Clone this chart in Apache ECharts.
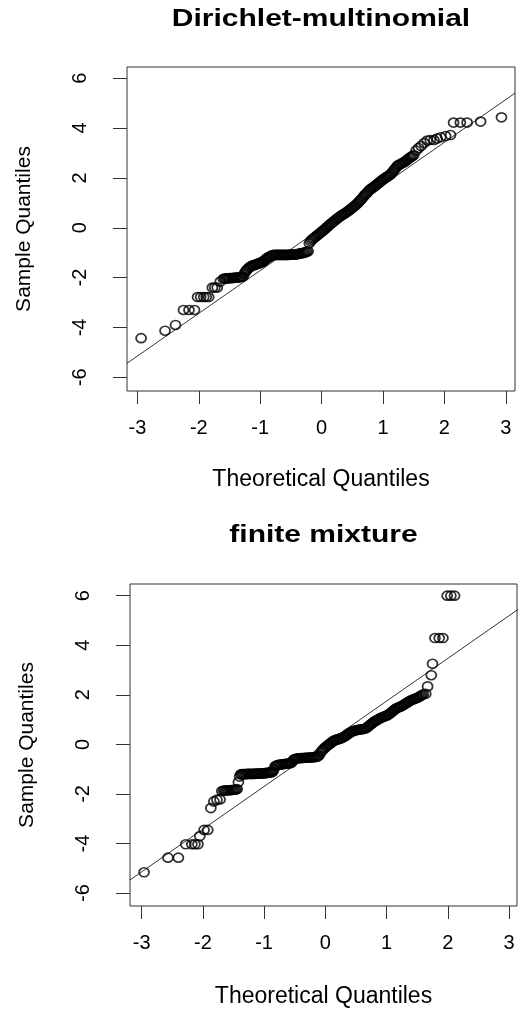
<!DOCTYPE html>
<html>
<head>
<meta charset="utf-8">
<script src="https://cdn.jsdelivr.net/npm/echarts@6/dist/echarts.min.js"></script>
<style>
html,body{margin:0;padding:0;background:#fff;}
#chart{width:519px;height:1009px;}
</style>
</head>
<body>
<div id="chart"></div>
<script>
// ---- Data ----
var titleDM = 'Dirichlet-multinomial';
var titleFM = 'finite mixture';
var xAxisName = 'Theoretical Quantiles';
var yAxisName = 'Sample Quantiles';
var xTicks = [-3, -2, -1, 0, 1, 2, 3];
var yTicks = [-6, -4, -2, 0, 2, 4, 6];

// Dirichlet-multinomial: [theoretical quantile, sample quantile]
var qqDM = [
  [-2.94,-4.43],[-2.55,-4.13],[-2.38,-3.90],[-2.25,-3.30],[-2.16,-3.30],[-2.07,-3.30],
  [-2.02,-2.78],[-1.97,-2.78],[-1.92,-2.78],[-1.88,-2.78],[-1.84,-2.78],
  [-1.78,-2.40],[-1.74,-2.40],[-1.70,-2.40],[-1.65,-2.16],
  [-1.60,-2.05],[-1.58,-2.04],[-1.56,-2.04],[-1.54,-2.03],[-1.52,-2.03],[-1.50,-2.02],[-1.48,-2.02],
  [-1.46,-2.02],[-1.44,-2.01],[-1.42,-2.01],[-1.40,-2.00],[-1.38,-2.00],[-1.36,-2.00],[-1.34,-1.99],
  [-1.32,-1.98],[-1.30,-1.97],[-1.28,-1.96],
  [-1.26,-1.85],[-1.24,-1.76],[-1.22,-1.70],[-1.20,-1.64],[-1.18,-1.59],[-1.16,-1.56],
  [-1.14,-1.53],[-1.12,-1.51],[-1.10,-1.50],[-1.08,-1.48],[-1.06,-1.46],[-1.04,-1.44],[-1.02,-1.43],
  [-1.00,-1.41],[-0.98,-1.38],[-0.96,-1.37],
  [-0.94,-1.33],[-0.92,-1.28],[-0.90,-1.24],[-0.88,-1.20],[-0.86,-1.18],[-0.84,-1.15],[-0.82,-1.12],[-0.80,-1.10],
  [-0.78,-1.09],[-0.76,-1.09],[-0.74,-1.09],[-0.72,-1.09],[-0.70,-1.09],[-0.68,-1.09],[-0.66,-1.09],
  [-0.64,-1.09],[-0.62,-1.09],[-0.60,-1.09],[-0.58,-1.09],[-0.56,-1.09],[-0.54,-1.09],[-0.52,-1.08],
  [-0.50,-1.08],[-0.48,-1.08],[-0.46,-1.08],[-0.44,-1.08],[-0.42,-1.07],[-0.40,-1.06],[-0.38,-1.05],
  [-0.36,-1.04],[-0.34,-1.03],[-0.32,-1.02],[-0.30,-1.01],[-0.28,-1.00],[-0.26,-0.98],[-0.24,-0.96],[-0.22,-0.94],
  [-0.20,-0.62],[-0.18,-0.54],[-0.16,-0.48],[-0.14,-0.44],[-0.12,-0.40],[-0.10,-0.36],[-0.08,-0.32],
  [-0.06,-0.28],[-0.04,-0.24],[-0.02,-0.20],[0.00,-0.16],[0.02,-0.12],[0.04,-0.08],[0.06,-0.04],
  [0.08,0.01],[0.10,0.05],[0.12,0.10],[0.14,0.14],[0.16,0.18],[0.18,0.22],[0.20,0.26],[0.22,0.30],
  [0.24,0.34],[0.26,0.38],[0.28,0.42],[0.30,0.45],[0.32,0.49],[0.34,0.52],[0.36,0.55],[0.38,0.58],
  [0.40,0.61],[0.42,0.65],[0.44,0.68],[0.46,0.72],[0.48,0.76],[0.50,0.80],[0.52,0.84],[0.54,0.88],
  [0.56,0.92],[0.58,0.97],[0.60,1.02],[0.62,1.07],[0.64,1.12],[0.66,1.18],[0.68,1.24],[0.70,1.30],
  [0.72,1.35],[0.74,1.40],[0.76,1.46],[0.78,1.51],[0.80,1.55],[0.82,1.59],[0.84,1.63],[0.86,1.66],
  [0.88,1.70],[0.90,1.74],[0.92,1.78],[0.94,1.82],[0.96,1.86],[0.98,1.90],[1.00,1.94],[1.02,1.97],
  [1.04,2.01],[1.06,2.04],[1.08,2.07],[1.10,2.10],[1.12,2.14],[1.14,2.19],[1.16,2.25],[1.18,2.32],
  [1.20,2.38],[1.22,2.44],[1.24,2.50],[1.26,2.53],[1.28,2.55],[1.30,2.58],[1.32,2.61],[1.34,2.63],
  [1.36,2.66],[1.38,2.70],[1.40,2.74],[1.42,2.78],[1.44,2.82],[1.46,2.85],[1.48,2.88],[1.50,2.92],
  [1.54,3.10],[1.58,3.20],[1.62,3.28],[1.67,3.40],[1.72,3.50],[1.77,3.52],[1.83,3.52],[1.88,3.58],
  [1.94,3.63],[2.02,3.68],[2.10,3.72],[2.15,4.22],[2.26,4.22],[2.37,4.22],[2.59,4.26],[2.93,4.43]
];
// reference line end points [x, y]
var lineDM = [[-3.17,-5.44],[3.15,5.40]];

// finite mixture: [theoretical quantile, sample quantile]
var qqFM = [
  [-2.96,-5.16],[-2.57,-4.57],[-2.40,-4.57],[-2.28,-4.03],[-2.18,-4.03],[-2.13,-4.03],[-2.08,-4.03],
  [-2.05,-3.70],[-1.98,-3.45],[-1.92,-3.45],[-1.87,-2.57],[-1.82,-2.30],[-1.77,-2.23],[-1.72,-2.22],
  [-1.69,-1.88],[-1.66,-1.86],[-1.64,-1.86],[-1.62,-1.86],[-1.60,-1.85],[-1.58,-1.85],[-1.56,-1.85],
  [-1.54,-1.84],[-1.52,-1.84],[-1.50,-1.83],[-1.48,-1.83],[-1.46,-1.82],[-1.44,-1.80],
  [-1.42,-1.52],[-1.40,-1.30],
  [-1.38,-1.21],[-1.36,-1.20],[-1.34,-1.20],[-1.32,-1.20],[-1.30,-1.20],[-1.28,-1.19],[-1.26,-1.19],
  [-1.24,-1.19],[-1.22,-1.19],[-1.20,-1.19],[-1.18,-1.19],[-1.16,-1.19],[-1.14,-1.18],[-1.12,-1.18],
  [-1.10,-1.18],[-1.08,-1.18],[-1.06,-1.17],[-1.04,-1.17],[-1.02,-1.17],[-1.00,-1.16],[-0.98,-1.16],
  [-0.96,-1.15],[-0.94,-1.15],[-0.92,-1.14],[-0.90,-1.13],[-0.88,-1.12],[-0.86,-1.10],[-0.84,-1.00],
  [-0.82,-0.88],[-0.80,-0.85],[-0.78,-0.83],[-0.76,-0.82],[-0.74,-0.81],[-0.72,-0.81],[-0.70,-0.80],
  [-0.68,-0.79],[-0.66,-0.79],[-0.64,-0.78],[-0.62,-0.77],[-0.60,-0.77],[-0.58,-0.76],[-0.56,-0.75],
  [-0.54,-0.70],[-0.52,-0.62],[-0.50,-0.59],[-0.48,-0.58],[-0.46,-0.57],[-0.44,-0.56],[-0.42,-0.56],
  [-0.40,-0.55],[-0.38,-0.55],[-0.36,-0.55],[-0.34,-0.54],[-0.32,-0.54],[-0.30,-0.54],[-0.28,-0.53],
  [-0.26,-0.53],[-0.24,-0.53],[-0.22,-0.52],[-0.20,-0.52],[-0.18,-0.52],[-0.16,-0.51],[-0.14,-0.50],
  [-0.12,-0.48],[-0.10,-0.44],[-0.08,-0.34],[-0.06,-0.28],[-0.04,-0.22],[-0.02,-0.17],[0.00,-0.12],
  [0.02,-0.08],[0.04,-0.04],[0.06,0.00],[0.08,0.04],[0.10,0.08],[0.12,0.12],[0.14,0.15],[0.16,0.17],
  [0.18,0.19],[0.20,0.20],[0.22,0.22],[0.24,0.23],[0.26,0.25],[0.28,0.28],[0.30,0.30],[0.32,0.33],
  [0.34,0.36],[0.36,0.40],[0.38,0.44],[0.40,0.47],[0.42,0.50],[0.44,0.52],[0.46,0.54],[0.48,0.56],
  [0.50,0.57],[0.52,0.58],[0.54,0.59],[0.56,0.60],[0.58,0.61],[0.60,0.61],[0.62,0.62],[0.64,0.63],
  [0.66,0.65],[0.68,0.68],[0.70,0.72],[0.72,0.76],[0.74,0.80],[0.76,0.84],[0.78,0.88],[0.80,0.92],
  [0.82,0.95],[0.84,0.97],[0.86,1.00],[0.88,1.03],[0.90,1.06],[0.92,1.08],[0.94,1.10],[0.96,1.12],
  [0.98,1.14],[1.00,1.16],[1.02,1.19],[1.04,1.22],[1.06,1.26],[1.08,1.30],[1.10,1.34],[1.12,1.38],
  [1.14,1.42],[1.16,1.46],[1.18,1.48],[1.20,1.50],[1.22,1.52],[1.24,1.54],[1.26,1.57],[1.28,1.60],
  [1.30,1.63],[1.32,1.66],[1.34,1.69],[1.36,1.72],[1.38,1.75],[1.40,1.78],[1.42,1.80],[1.44,1.82],
  [1.46,1.84],[1.48,1.86],[1.50,1.88],[1.52,1.90],[1.54,1.93],[1.56,1.96],[1.58,1.99],[1.60,2.02],
  [1.64,2.04],[1.67,2.34],[1.73,2.79],[1.75,3.25],[1.79,4.29],[1.86,4.29],[1.92,4.29],
  [1.99,6.00],[2.05,6.00],[2.11,6.00]
];
var lineFM = [[-3.19,-5.47],[3.15,5.45]];

// ---- Build chart ----
var FONT = '"Liberation Sans", Arial, sans-serif';

function xAxisCfg(gi, mn, mx, gap){
  return {
    type:'value', gridIndex:gi, min:mn, max:mx,
    axisLine:{show:false, onZero:false},
    splitLine:{show:false},
    axisTick:{show:true, inside:false, length:13, customValues:xTicks, lineStyle:{color:'#333', width:1}},
    axisLabel:{customValues:xTicks, fontSize:20, fontFamily:FONT, color:'#000', margin:27},
    name:xAxisName, nameLocation:'middle', nameGap:gap,
    nameTextStyle:{fontSize:23, fontFamily:FONT, color:'#000'}
  };
}
function yAxisCfg(gi, mn, mx){
  return {
    type:'value', gridIndex:gi, min:mn, max:mx,
    axisLine:{show:false, onZero:false},
    splitLine:{show:false},
    axisTick:{show:true, inside:false, length:14, customValues:yTicks, lineStyle:{color:'#333', width:1}},
    axisLabel:{customValues:yTicks, fontSize:20, fontFamily:FONT, color:'#000', rotate:90, margin:37},
    name:yAxisName, nameLocation:'middle', nameGap:92, nameRotate:90,
    nameTextStyle:{fontSize:21, fontFamily:FONT, color:'#000'}
  };
}
function scatterCfg(idx, data){
  return {
    type:'scatter', xAxisIndex:idx, yAxisIndex:idx, data:data,
    symbol:'circle', symbolSize:[10,9], silent:true, animation:false, large:false,
    itemStyle:{color:'rgba(0,0,0,0)', borderColor:'#000', borderWidth:1.7}
  };
}
function lineCfg(idx, data){
  return {
    type:'line', xAxisIndex:idx, yAxisIndex:idx, data:data,
    symbol:'none', silent:true, animation:false, clip:true,
    lineStyle:{color:'#000', width:0.8}
  };
}

var chart = echarts.init(document.getElementById('chart'), null, {renderer:'canvas'});
chart.setOption({
  animation:false,
  backgroundColor:'#fff',
  graphic:[
    {type:'text', x:321, y:19, scaleX:1.25, style:{text:titleDM, font:'bold 24px ' + FONT, fill:'#000', align:'center', verticalAlign:'middle'}},
    {type:'text', x:323.5, y:535, scaleX:1.25, style:{text:titleFM, font:'bold 24px ' + FONT, fill:'#000', align:'center', verticalAlign:'middle'}}
  ],
  grid:[
    {left:127, top:67, width:388, height:324, show:true, borderColor:'#333', borderWidth:1, backgroundColor:'transparent'},
    {left:130, top:584, width:387, height:324, show:true, borderColor:'#333', borderWidth:1, backgroundColor:'transparent'}
  ],
  xAxis:[ xAxisCfg(0, -3.17, 3.15, 77), xAxisCfg(1, -3.19, 3.13, 79) ],
  yAxis:[ yAxisCfg(0, -6.55, 6.45), yAxisCfg(1, -6.52, 6.47) ],
  series:[
    lineCfg(0, lineDM),
    scatterCfg(0, qqDM),
    lineCfg(1, lineFM),
    scatterCfg(1, qqFM)
  ]
});
</script>
</body>
</html>
